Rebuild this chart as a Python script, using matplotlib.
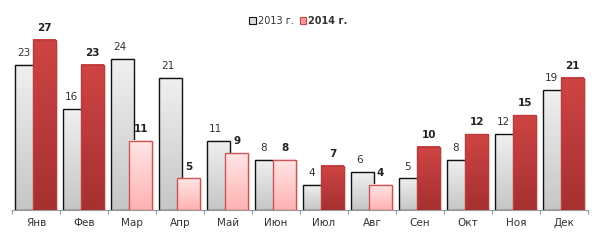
import matplotlib
matplotlib.use("Agg")
import matplotlib.pyplot as plt
import numpy as np
from matplotlib.patches import Rectangle

months = ["Янв", "Фев", "Мар", "Апр", "Май", "Июн",
          "Июл", "Авг", "Сен", "Окт", "Ноя", "Дек"]
v2013 = [23, 16, 24, 21, 11, 8, 4, 6, 5, 8, 12, 19]
v2014 = [27, 23, 11, 5, 9, 8, 7, 4, 10, 12, 15, 21]
labels = ["2013 г.", "2014 г."]

plt.rcParams['font.family'] = ['DejaVu Sans']

fig = plt.figure(figsize=(5.97, 2.48), dpi=100)
ax = fig.add_axes([12 / 597, 38 / 248, 576 / 597, 210 / 248])

x = np.arange(len(months)) + 0.5
w = 0.47
off13 = -0.2
off14 = 0.18


def grad(c_top, c_bot, n=64):
    a = np.array(matplotlib.colors.to_rgb(c_top))
    b = np.array(matplotlib.colors.to_rgb(c_bot))
    t = np.linspace(0, 1, n)[:, None]
    col = a * (1 - t) + b * t
    return col[:, None, :]


def draw_bars(xs, vals, tops, bots, edges, z, shadow=False):
    bars = ax.bar(xs, vals, width=w, facecolor="none", edgecolor="none", zorder=z)
    for b, ct, cb, ec in zip(bars, tops, bots, edges):
        x0, y0 = b.get_x(), b.get_y()
        bw, bh = b.get_width(), b.get_height()
        if shadow:
            # soft shadow on the right
            ax.add_patch(Rectangle((x0 + 0.05, y0), bw, bh - 0.15, facecolor="#dcdcdc",
                                   edgecolor="none", alpha=0.6, zorder=z - 0.5))
        ax.imshow(grad(ct, cb), extent=(x0, x0 + bw, y0, y0 + bh),
                  aspect="auto", origin="upper", zorder=z, interpolation="bilinear")
        ax.add_patch(Rectangle((x0, y0), bw, bh, facecolor="none",
                               edgecolor=ec, linewidth=1.0, zorder=z + 0.1))
    return bars


n = len(months)
draw_bars(x + off13, v2013, ["#f0f0f0"] * n, ["#c6c6c6"] * n, ["#111111"] * n, 2)

tops14, bots14, edges14 = [], [], []
for a, b in zip(v2013, v2014):
    if b > a:
        tops14.append("#cf4444"); bots14.append("#a63030"); edges14.append("#bb3c3c")
    else:
        tops14.append("#ffe6e6"); bots14.append("#ffb2b2"); edges14.append("#cc5555")
draw_bars(x + off14, v2014, tops14, bots14, edges14, 3, shadow=True)

for xi, v in zip(x + off13, v2013):
    ax.annotate(str(v), (xi, v), xytext=(-2, 5), textcoords="offset points",
                ha="center", va="bottom", fontsize=7.5, color="#333333")
for xi, v in zip(x + off14, v2014):
    ax.annotate(str(v), (xi, v), xytext=(0, 5), textcoords="offset points",
                ha="center", va="bottom", fontsize=7.5, color="#222222",
                fontweight="bold")

ax.set_xlim(0, n)
ax.set_ylim(0, 33.3)
for s in ["top", "right", "left"]:
    ax.spines[s].set_visible(False)
ax.spines["bottom"].set_color("#999999")
ax.spines["bottom"].set_linewidth(0.8)
ax.set_yticks([])
ax.set_xticks(np.arange(n + 1))
ax.set_xticklabels([])
ax.set_xticks(x, minor=True)
ax.set_xticklabels(months, minor=True)
ax.tick_params(axis="x", which="major", length=3, color="#999999", width=0.8)
ax.tick_params(axis="x", which="minor", length=0, labelsize=7.5,
               labelcolor="#333333", pad=6)

handles = [Rectangle((0, 0), 1, 1, facecolor="#dddddd", edgecolor="#111111", linewidth=0.8),
           Rectangle((0, 0), 1, 1, facecolor="#ff9a9a", edgecolor="#cc4444", linewidth=0.8)]
leg = fig.legend(handles, labels, loc="center", bbox_to_anchor=(0.5, 0.915),
                 ncol=2, frameon=False, fontsize=7, handlelength=0.7,
                 handleheight=0.7, handletextpad=0.2, columnspacing=0.6)
for t in leg.get_texts():
    t.set_color("#333333")
leg.get_texts()[1].set_fontweight("bold")

fig.savefig("out.png", dpi=100)
